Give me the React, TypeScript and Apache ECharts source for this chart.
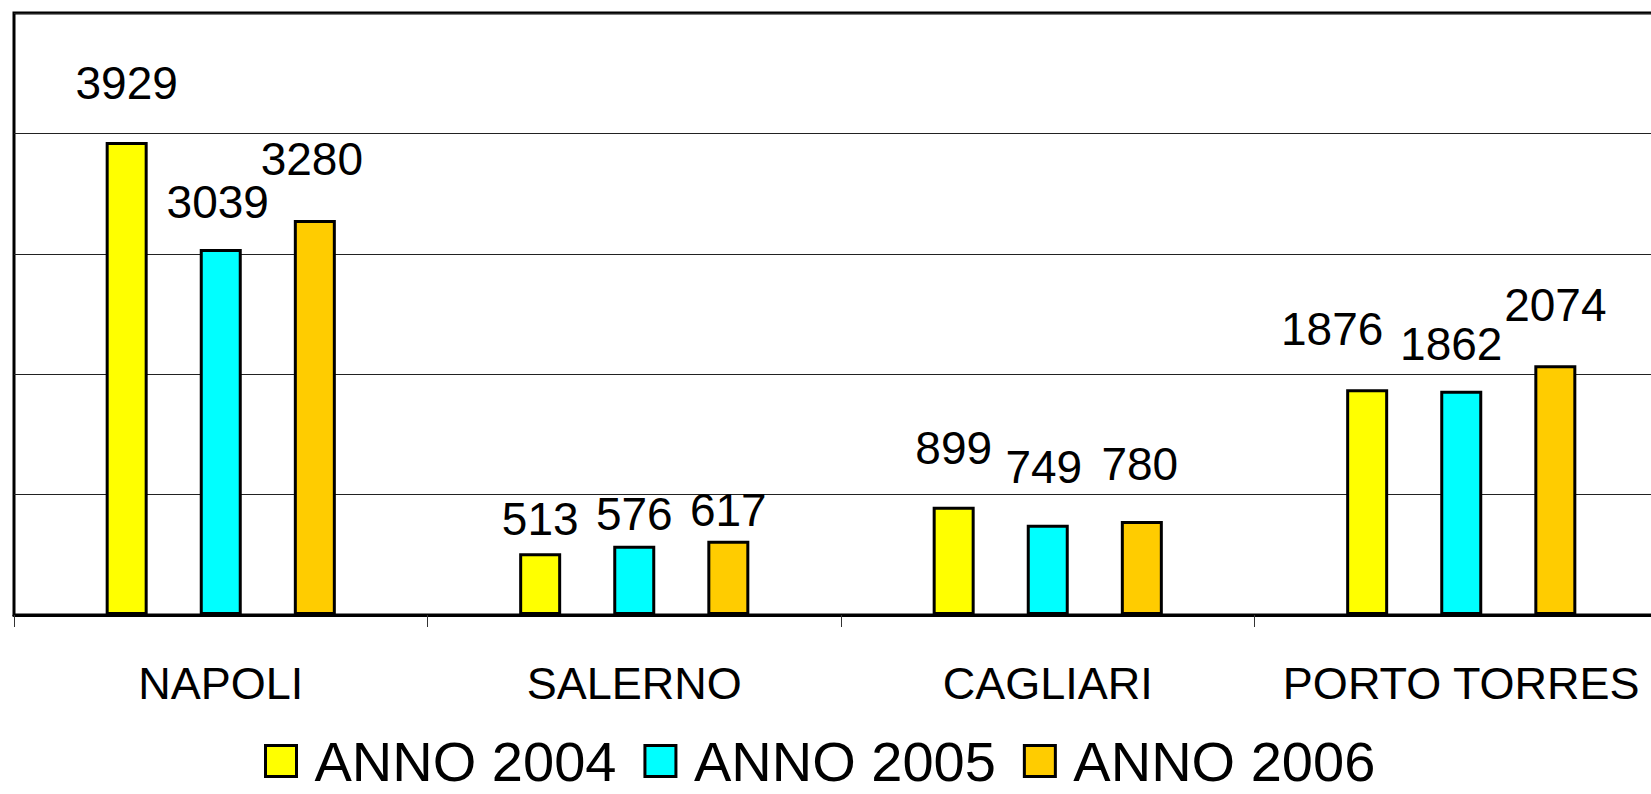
import React, { useEffect, useRef } from "react";
import * as echarts from "echarts";

const categories = ["NAPOLI", "SALERNO", "CAGLIARI", "PORTO TORRES"];
const seriesNames = ["ANNO 2004", "ANNO 2005", "ANNO 2006"];
const anno2004 = [3929, 513, 899, 1876];
const anno2005 = [3039, 576, 749, 1862];
const anno2006 = [3280, 617, 780, 2074];
const yTicks = [0, 1000, 2000, 3000, 4000, 5000];

const colors = ["#FFFF00", "#00FFFF", "#FFCC00"];
// label offsets [dx, dy] relative to bar top (text centre)
const labelOffsets = [
  [[0, -59], [0, -34], [0, -59], [-35, -60]],
  [[-3, -47], [0, -32], [-4, -58], [-10, -47]],
  [[-3, -61], [0, -31], [-2, -57], [0, -60]],
];

export default function App() {
  const ref = useRef<HTMLDivElement>(null);
  useEffect(() => {
    if (!ref.current) return;
    const chart = echarts.init(ref.current, null, { renderer: "svg" });
    const font = "'Liberation Sans', Arial, sans-serif";
    const all = [anno2004, anno2005, anno2006];
    chart.setOption({
      animation: false,
      backgroundColor: "#ffffff",
      grid: {
        left: 14,
        top: 13,
        bottom: 179,
        right: 0,
        containLabel: false,
        show: true,
        borderColor: "#000",
        borderWidth: 3,
      },
      legend: {
        data: seriesNames,
        top: 733,
        left: 264,
        padding: 0,
        icon: "rect",
        itemWidth: 31,
        itemHeight: 31,
        itemGap: 27,
        itemStyle: { borderColor: "#000", borderWidth: 3 },
        textStyle: {
          fontFamily: font,
          fontSize: 56,
          color: "#000",
          padding: [0, 0, 0, 13],
        },
      },
      xAxis: {
        type: "category",
        data: categories,
        axisLine: { show: true, lineStyle: { color: "#000", width: 3 } },
        axisTick: {
          show: true,
          interval: 0,
          length: 12,
          lineStyle: { color: "#333", width: 1 },
        },
        axisLabel: {
          interval: 0,
          fontFamily: font,
          fontSize: 45,
          color: "#000",
          margin: 46,
        },
      },
      yAxis: {
        type: "value",
        min: yTicks[0],
        max: yTicks[yTicks.length - 1],
        interval: 1000,
        axisLabel: { show: false },
        axisTick: { show: false },
        axisLine: { show: false },
        splitLine: { show: true, lineStyle: { color: "#222", width: 1 } },
      },
      series: all.map((vals, si) => ({
        type: "bar",
        name: seriesNames[si],
        barWidth: 42,
        barGap: "124%",
        itemStyle: { color: colors[si], borderColor: "#000", borderWidth: 3 },
        label: {
          show: true,
          position: "top",
          distance: 0,
          verticalAlign: "middle",
          fontFamily: font,
          fontSize: 46,
          color: "#000",
        },
        data: vals.map((v, i) => ({
          value: v,
          label: { offset: labelOffsets[si][i] },
        })),
      })),
    });
    return () => chart.dispose();
  }, []);
  return (
    <div
      ref={ref}
      style={{ position: "fixed", left: 0, top: 0, width: 1668, height: 794 }}
    />
  );
}
